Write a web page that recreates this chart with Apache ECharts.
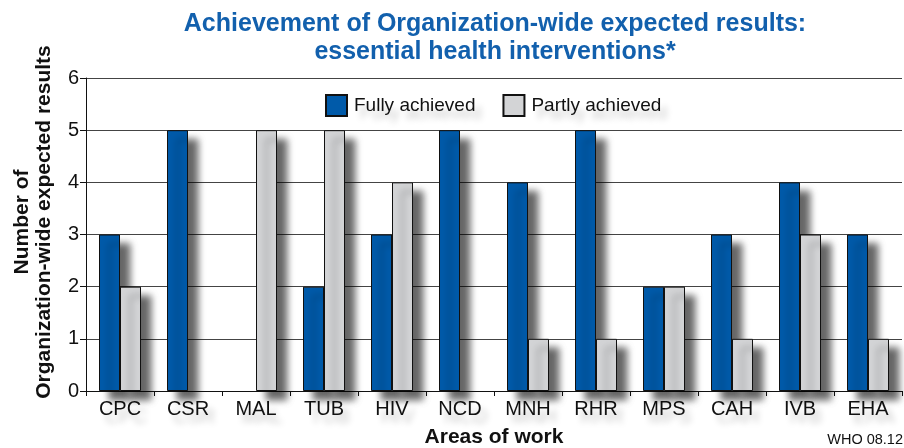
<!DOCTYPE html>
<html><head><meta charset="utf-8">
<script src="https://cdn.jsdelivr.net/npm/echarts@6/dist/echarts.min.js"></script>
<style>html,body{margin:0;padding:0;background:#fff}#c{width:904px;height:448px}</style>
</head><body><div id="c"></div>
<script>
const categories = ['CPC','CSR','MAL','TUB','HIV','NCD','MNH','RHR','MPS','CAH','IVB','EHA'];
const fullyAchieved = [3,5,0,2,3,5,4,5,2,3,4,3];
const partlyAchieved = [2,0,5,5,4,0,1,1,2,1,3,1];
const yTicks = [0,1,2,3,4,5,6];
const titleLines = ['Achievement of Organization-wide expected results:', 'essential health interventions*'];
const yName = ['Number of', 'Organization-wide expected results'];
const xName = 'Areas of work';
const credit = 'WHO 08.12';

const BLUE = '#005aa9', GREY = '#d3d4d6';
const FONT = '"Liberation Sans", Arial, sans-serif';
const shadowBar = {shadowColor:'rgba(0,0,0,0.6)', shadowBlur:7, shadowOffsetX:10, shadowOffsetY:9};
const txtShadow = {textShadowColor:'rgba(0,0,0,0.22)', textShadowBlur:6, textShadowOffsetX:6, textShadowOffsetY:8};
const noMark = {borderWidth:0, shadowBlur:0, shadowColor:'rgba(0,0,0,0)'};
const toData = arr => arr.map(v => v === 0 ? {value:v, itemStyle:noMark} : v);

const chart = echarts.init(document.getElementById('c'), null, {renderer:'canvas'});
chart.setOption({
  animation:false,
  backgroundColor:'#fff',
  grid:{left:86, right:2, top:78, bottom:57, containLabel:false},
  legend:{
    left:320, top:89, itemWidth:21, itemHeight:21, itemGap:27, icon:'rect',
    textStyle:Object.assign({fontFamily:FONT, fontSize:19, color:'#111', padding:[0,0,0,2]}, txtShadow),
    data:['Fully achieved','Partly achieved']
  },
  xAxis:{
    type:'category', data:categories,
    axisLine:{lineStyle:{color:'#111', width:1}},
    axisTick:{show:true, length:5, lineStyle:{color:'#111'}},
    axisLabel:Object.assign({fontFamily:FONT, fontSize:20, color:'#111', margin:8}, txtShadow),
    splitLine:{show:false}
  },
  yAxis:{
    type:'value', min:0, max:6, interval:1,
    axisLine:{show:true, lineStyle:{color:'#111', width:1}},
    axisTick:{show:true, length:6, lineStyle:{color:'#111'}},
    axisLabel:{fontFamily:FONT, fontSize:20, color:'#111', margin:7,
      formatter:v=>yTicks.includes(v)?String(v):''},
    splitLine:{show:true, lineStyle:{color:'#444', width:1}}
  },
  series:[
    {name:'Fully achieved', type:'bar', data:toData(fullyAchieved), barWidth:21, barGap:'0%',
     itemStyle:Object.assign({color:BLUE, borderColor:'#111', borderWidth:1}, shadowBar)},
    {name:'Partly achieved', type:'bar', data:toData(partlyAchieved), barWidth:21, barGap:'0%',
     itemStyle:Object.assign({color:GREY, borderColor:'#111', borderWidth:1}, shadowBar)}
  ],
  graphic:[
    {type:'text', x:495, y:24, style:{text:titleLines[0], fill:'#1260ad', font:'bold 25px '+FONT, textAlign:'center', textVerticalAlign:'middle', shadowColor:'rgba(0,0,0,0.3)', shadowBlur:8, shadowOffsetX:6, shadowOffsetY:10}},
    {type:'text', x:495, y:52, style:{text:titleLines[1], fill:'#1260ad', font:'bold 25px '+FONT, textAlign:'center', textVerticalAlign:'middle', shadowColor:'rgba(0,0,0,0.3)', shadowBlur:8, shadowOffsetX:6, shadowOffsetY:10}},
    {type:'text', x:22, y:222, rotation:Math.PI/2, style:{text:yName[0], fill:'#111', font:'bold 21px '+FONT, textAlign:'center', textVerticalAlign:'middle'}},
    {type:'text', x:44, y:222, rotation:Math.PI/2, style:{text:yName[1], fill:'#111', font:'bold 21px '+FONT, textAlign:'center', textVerticalAlign:'middle'}},
    {type:'text', x:494, y:437, style:{text:xName, fill:'#111', font:'bold 21px '+FONT, textAlign:'center', textVerticalAlign:'middle'}},
    {type:'text', x:903, y:440, style:{text:credit, fill:'#111', font:'14.5px '+FONT, textAlign:'right', textVerticalAlign:'middle'}}
  ]
});
</script></body></html>
